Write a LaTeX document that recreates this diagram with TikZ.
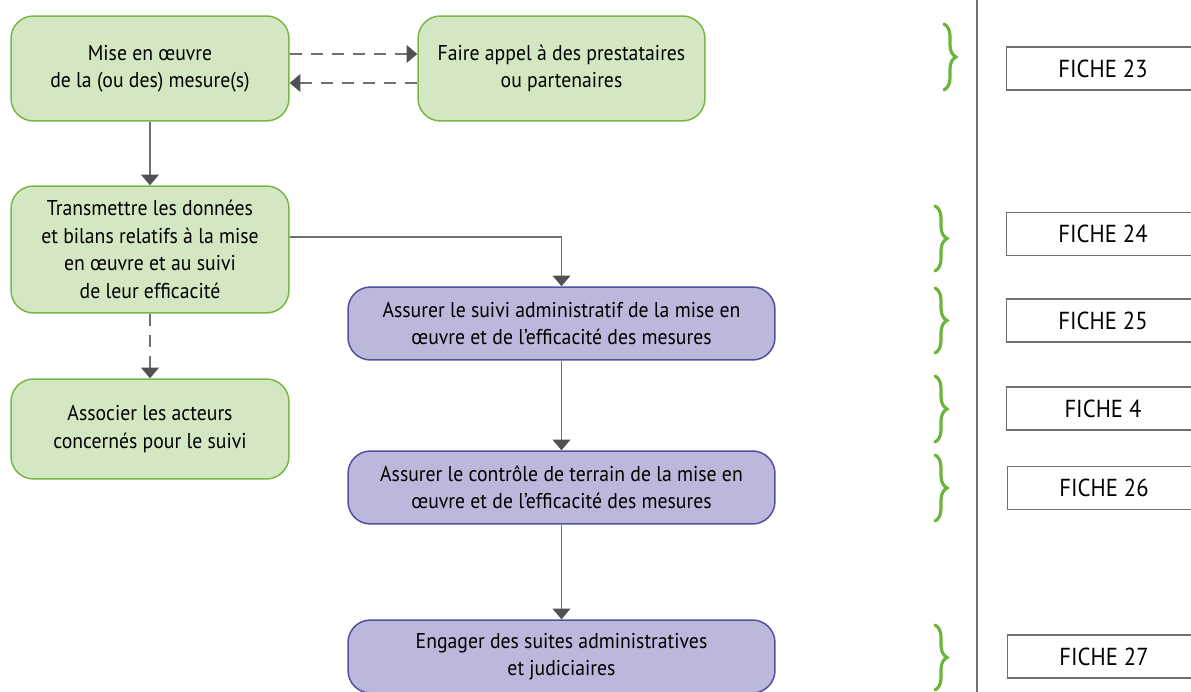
\documentclass[tikz,border=0pt]{standalone}
\usepackage{fontspec}
\setmainfont[FakeStretch=0.92]{PT Sans}
\usepackage{tikz}
\usetikzlibrary{positioning,arrows.meta,decorations.pathreplacing}
\definecolor{vertfond}{HTML}{D3E8C2}
\definecolor{vertbord}{HTML}{7AB648}
\definecolor{violetfond}{HTML}{BCB8DC}
\definecolor{violetbord}{HTML}{50509E}
\definecolor{accolade}{HTML}{6AB53A}
\definecolor{trait}{HTML}{707070}
\definecolor{pointe}{HTML}{505055}

\tikzset{
	etapevert/.style={draw=vertbord, fill=vertfond, line width=0.85pt, rounded corners=0.45cm,
		align=center, font=\fontsize{12.2}{15.6}\selectfont, minimum width=5.56cm, inner sep=2pt},
	etapeviolet/.style={draw=violetbord, fill=violetfond, line width=0.85pt, rounded corners=0.45cm,
		align=center, font=\fontsize{12.2}{15.6}\selectfont, minimum width=8.54cm, minimum height=1.46cm, inner sep=2pt},
	fiche/.style={draw=trait, line width=0.6pt, minimum width=3.88cm, minimum height=0.86cm,
		font=\fontsize{14}{16}\selectfont, inner sep=0pt},
	fleche/.style={draw=trait, line width=0.85pt, -{Triangle[width=10pt,length=6pt,color=pointe]}},
	tirets/.style={dash pattern=on 7pt off 5pt},
	accol/.style={draw=accolade, line width=1.8pt, line cap=round, decorate,
		decoration={brace, amplitude=0.24cm}}
}

\begin{document}
\begin{tikzpicture}[x=0.02cm, y=-0.02cm]
	\clip (0,0) rectangle (1191,692);
	\fill[white] (0,0) rectangle (1191,692);

	\node[etapevert, minimum height=2.1cm] (m1) at (150,68.5) {Mise en œuvre\\de la (ou des) mesure(s)};
	\node[etapevert, minimum height=2.1cm, minimum width=5.74cm] (m2) at (561.5,68.5) {Faire appel à des prestataires\\ou partenaires};
	\node[etapevert, minimum height=2.54cm] (m3) at (150,249.5) {Transmettre les données\\et bilans relatifs à la mise\\en œuvre et au suivi\\de leur efficacité};
	\node[etapevert, minimum height=2.0cm] (m5) at (150,429) {Associer les acteurs\\concernés pour le suivi};
	\node[etapeviolet] (m4) at (561.5,323.5) {Assurer le suivi administratif de la mise en\\œuvre et de l’efficacité des mesures};
	\node[etapeviolet] (m6) at (561.5,487.5) {Assurer le contrôle de terrain de la mise en\\œuvre et de l’efficacité des mesures};
	\node[etapeviolet] (m7) at (561.5,656.5) {Engager des suites administratives\\et judiciaires};

	\draw[fleche, tirets] ([yshift=0.29cm]m1.east) -- ([yshift=0.29cm]m2.west);
	\draw[fleche, tirets] ([yshift=-0.29cm]m2.west) -- ([yshift=-0.29cm]m1.east);
	\draw[fleche] (m1) -- (m3);
	\draw[fleche, tirets] (m3) -- (m5);
	\draw[fleche] ([yshift=0.25cm]m3.east) -| (m4.north);
	\draw[fleche] (m4) -- (m6);
	\draw[fleche] (m6) -- (m7);

	\draw[trait, line width=0.6pt] (977,0) -- (977,692);

	\draw[accol] (944,24) -- (944,90);
	\draw[accol] (935,206) -- (935,271);
	\draw[accol] (935,288) -- (935,353);
	\draw[accol] (935,376) -- (935,442);
	\draw[accol] (935,455) -- (935,521);
	\draw[accol] (935,625) -- (935,690);

	\node[fiche] (f23) at (1103,68.5) {FICHE 23};
	\node[fiche] (f24) at (1103,234) {FICHE 24};
	\node[fiche] (f25) at (1103,320.5) {FICHE 25};
	\node[fiche] (f4) at (1103,408.5) {FICHE 4};
	\node[fiche] (f26) at (1104,488) {FICHE 26};
	\node[fiche] (f27) at (1104,656.5) {FICHE 27};
\end{tikzpicture}
\end{document}
